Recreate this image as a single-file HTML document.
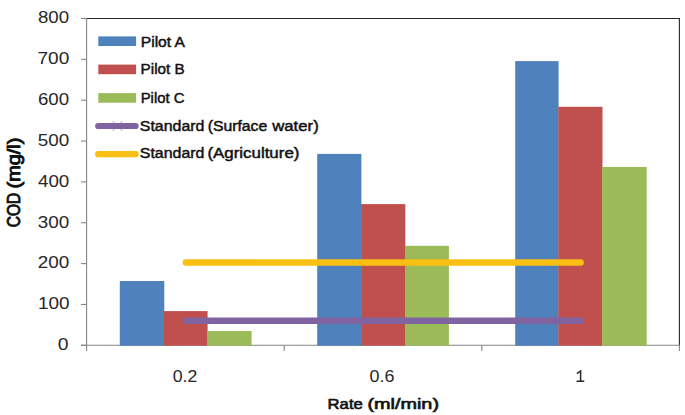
<!DOCTYPE html>
<html><head><meta charset="utf-8"><title>chart</title>
<style>html,body{margin:0;padding:0;background:#fff}body{width:685px;height:415px;overflow:hidden}</style></head>
<body>
<svg width="685" height="415" viewBox="0 0 685 415" style="display:block;font-family:'Liberation Sans',sans-serif">
<rect width="685" height="415" fill="#fff"/>
<path d="M86.6 18.5 H679.4 V345.3" stroke="#262626" stroke-width="1.1" fill="none"/>
<path d="M86.6 18.5 V345.3 M81.0 345.3 H679.9" stroke="#868686" stroke-width="1.1" fill="none"/>
<path d="M81.0 345.30 H86.6" stroke="#868686" stroke-width="1.1"/>
<path d="M81.0 304.45 H86.6" stroke="#868686" stroke-width="1.1"/>
<path d="M81.0 263.60 H86.6" stroke="#868686" stroke-width="1.1"/>
<path d="M81.0 222.75 H86.6" stroke="#868686" stroke-width="1.1"/>
<path d="M81.0 181.90 H86.6" stroke="#868686" stroke-width="1.1"/>
<path d="M81.0 141.05 H86.6" stroke="#868686" stroke-width="1.1"/>
<path d="M81.0 100.20 H86.6" stroke="#868686" stroke-width="1.1"/>
<path d="M81.0 59.35 H86.6" stroke="#868686" stroke-width="1.1"/>
<path d="M81.0 18.50 H86.6" stroke="#868686" stroke-width="1.1"/>
<path d="M86.60 345.3 V350.90000000000003" stroke="#868686" stroke-width="1.1"/>
<path d="M284.20 345.3 V350.90000000000003" stroke="#868686" stroke-width="1.1"/>
<path d="M481.80 345.3 V350.90000000000003" stroke="#868686" stroke-width="1.1"/>
<path d="M679.40 345.3 V350.90000000000003" stroke="#868686" stroke-width="1.1"/>
<rect x="119.80" y="281.00" width="44.50" height="64.70" fill="#4F81BD"/>
<rect x="164.00" y="311.10" width="43.60" height="34.60" fill="#C0504D"/>
<rect x="207.30" y="331.00" width="44.30" height="14.70" fill="#9BBB59"/>
<rect x="317.20" y="153.90" width="44.20" height="191.80" fill="#4F81BD"/>
<rect x="361.10" y="204.10" width="44.20" height="141.60" fill="#C0504D"/>
<rect x="405.00" y="245.80" width="43.90" height="99.90" fill="#9BBB59"/>
<rect x="515.20" y="61.10" width="43.40" height="284.60" fill="#4F81BD"/>
<rect x="558.30" y="106.80" width="44.20" height="238.90" fill="#C0504D"/>
<rect x="602.20" y="167.00" width="44.50" height="178.70" fill="#9BBB59"/>
<path d="M185.90 262.4 H580.60" stroke="#F9C013" stroke-width="6.5" stroke-linecap="round"/>
<path d="M185.90 320.8 H580.60" stroke="#8064A2" stroke-width="6.5" stroke-linecap="round"/>
<path d="M576.9 373.7 L580.6 370.9 V381.2 M576.6 381.2 H584.3" stroke="#262626" stroke-width="1.5" fill="none"/>
<rect x="98.3" y="36.40" width="37.8" height="9.6" fill="#4F81BD"/>
<rect x="98.3" y="64.60" width="37.8" height="9.6" fill="#C0504D"/>
<rect x="98.3" y="93.15" width="37.8" height="9.6" fill="#9BBB59"/>
<path d="M112.6 121.1 l9.8 9.8 m0 -9.8 l-9.8 9.8" stroke="#8064A2" stroke-opacity="0.75" stroke-width="0.9" fill="none"/>
<path d="M98.2 126.0 H135.6" stroke="#8064A2" stroke-width="6.2" stroke-linecap="round"/>
<path d="M98.2 154.2 H135.6" stroke="#F9C013" stroke-width="6.2" stroke-linecap="round"/>
<text x="57.80" y="350.10" font-size="17.2" textLength="10.76" lengthAdjust="spacingAndGlyphs" fill="#262626">0</text>
<text x="37.91" y="309.25" font-size="17.2" textLength="31.53" lengthAdjust="spacingAndGlyphs" fill="#262626">100</text>
<text x="37.72" y="268.40" font-size="17.2" textLength="31.51" lengthAdjust="spacingAndGlyphs" fill="#262626">200</text>
<text x="37.85" y="227.55" font-size="17.2" textLength="31.43" lengthAdjust="spacingAndGlyphs" fill="#262626">300</text>
<text x="38.00" y="186.70" font-size="17.2" textLength="31.28" lengthAdjust="spacingAndGlyphs" fill="#262626">400</text>
<text x="37.88" y="145.85" font-size="17.2" textLength="31.42" lengthAdjust="spacingAndGlyphs" fill="#262626">500</text>
<text x="38.01" y="105.00" font-size="17.2" textLength="31.13" lengthAdjust="spacingAndGlyphs" fill="#262626">600</text>
<text x="37.47" y="64.15" font-size="17.2" textLength="31.76" lengthAdjust="spacingAndGlyphs" fill="#262626">700</text>
<text x="37.95" y="23.30" font-size="17.2" textLength="31.17" lengthAdjust="spacingAndGlyphs" fill="#262626">800</text>
<text x="172.75" y="381.90" font-size="17.2" textLength="24.55" lengthAdjust="spacingAndGlyphs" fill="#262626">0.2</text>
<text x="369.52" y="381.90" font-size="17.2" textLength="24.86" lengthAdjust="spacingAndGlyphs" fill="#262626">0.6</text>
<text x="327.60" y="409.00" font-size="15.2" textLength="35.20" lengthAdjust="spacingAndGlyphs" fill="#111" stroke="#111" stroke-width="0.65">Rate</text>
<text x="367.46" y="409.00" font-size="15.2" textLength="71.55" lengthAdjust="spacingAndGlyphs" fill="#111" stroke="#111" stroke-width="0.65">(ml/min)</text>
<text transform="translate(19.9 227.19) rotate(-90)" font-size="17.6" textLength="34.48" lengthAdjust="spacingAndGlyphs" fill="#111" stroke="#111" stroke-width="0.9">COD</text>
<text transform="translate(19.9 188.46) rotate(-90)" font-size="17.6" textLength="50.86" lengthAdjust="spacingAndGlyphs" fill="#111" stroke="#111" stroke-width="0.9">(mg/l)</text>
<text x="140.77" y="46.50" font-size="14.0" textLength="44.26" lengthAdjust="spacingAndGlyphs" fill="#111" stroke="#111" stroke-width="0.45">Pilot A</text>
<text x="140.61" y="74.20" font-size="14.0" textLength="44.03" lengthAdjust="spacingAndGlyphs" fill="#111" stroke="#111" stroke-width="0.45">Pilot B</text>
<text x="140.65" y="102.50" font-size="14.0" textLength="43.92" lengthAdjust="spacingAndGlyphs" fill="#111" stroke="#111" stroke-width="0.45">Pilot C</text>
<text x="139.84" y="130.60" font-size="14.0" textLength="64.55" lengthAdjust="spacingAndGlyphs" fill="#111" stroke="#111" stroke-width="0.45">Standard</text>
<text x="207.68" y="130.60" font-size="14.0" textLength="59.62" lengthAdjust="spacingAndGlyphs" fill="#111" stroke="#111" stroke-width="0.45">(Surface</text>
<text x="272.24" y="130.60" font-size="14.0" textLength="46.50" lengthAdjust="spacingAndGlyphs" fill="#111" stroke="#111" stroke-width="0.45">water)</text>
<text x="139.84" y="158.40" font-size="14.0" textLength="64.55" lengthAdjust="spacingAndGlyphs" fill="#111" stroke="#111" stroke-width="0.45">Standard</text>
<text x="207.42" y="158.40" font-size="14.0" textLength="92.03" lengthAdjust="spacingAndGlyphs" fill="#111" stroke="#111" stroke-width="0.45">(Agriculture)</text>
</svg>
</body></html>
